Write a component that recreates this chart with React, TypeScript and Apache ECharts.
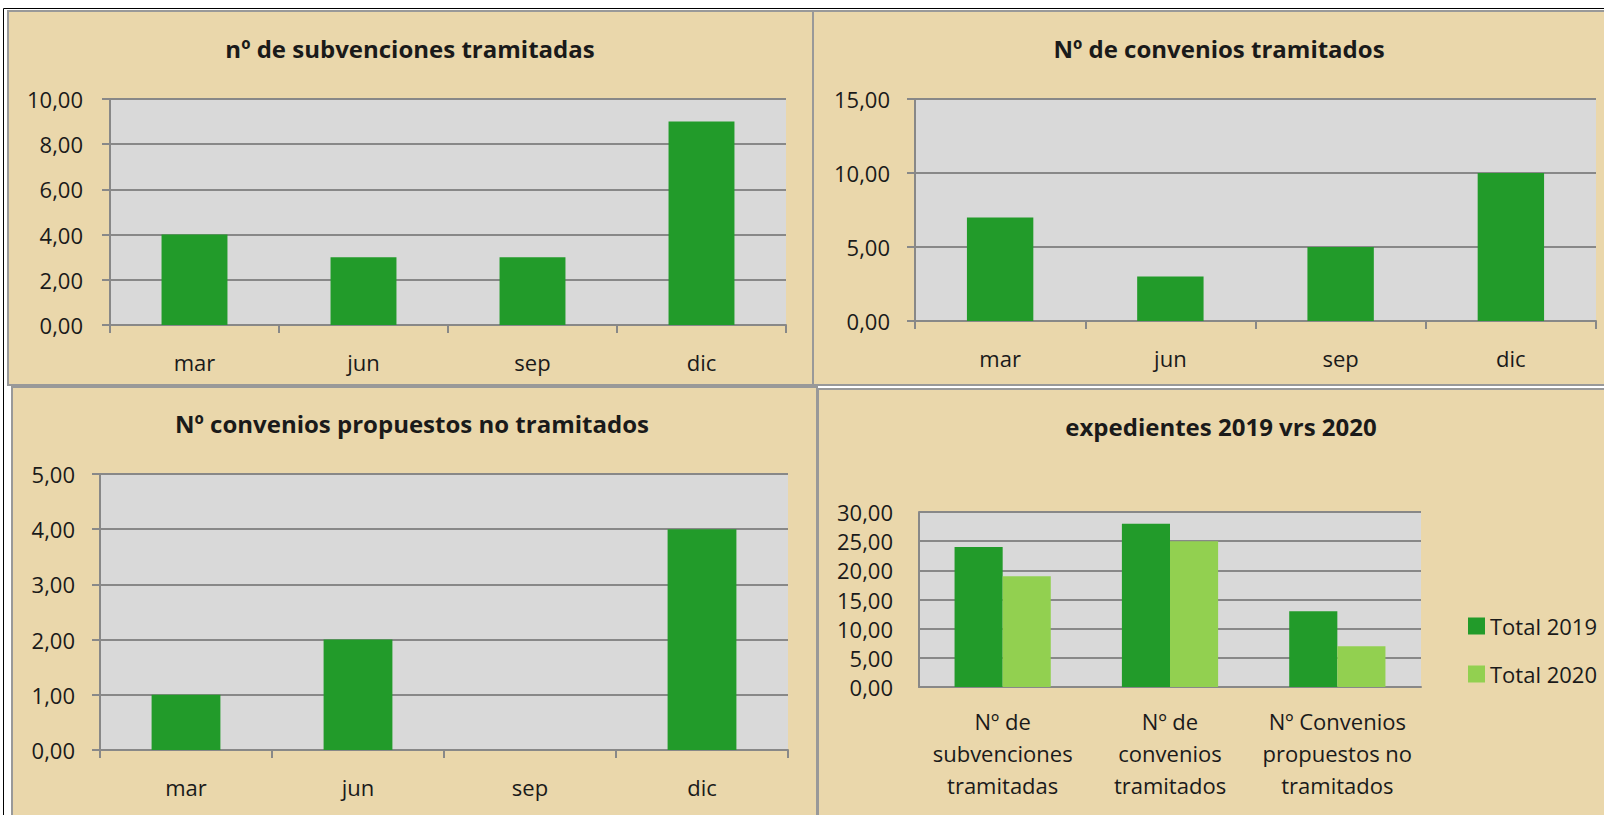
import React, { useEffect, useRef } from "react";
import * as echarts from "echarts";

const monthCats = ["mar", "jun", "sep", "dic"];
const subvValues = [4, 3, 3, 9];
const convValues = [7, 3, 5, 10];
const propValues = [1, 2, 0, 4];
const expCats = [
  "Nº de\nsubvenciones\ntramitadas",
  "Nº de\nconvenios\ntramitados",
  "Nº Convenios\npropuestos no\ntramitados",
];
const total2019 = [24, 28, 13];
const total2020 = [19, 25, 7];

const titles = [
  "nº de subvenciones tramitadas",
  "Nº de convenios tramitados",
  "Nº convenios propuestos no tramitados",
  "expedientes 2019 vrs 2020",
];

const FONT = '"Open Sans", "Noto Sans", sans-serif';
const TXT = "#1a1a1a";
const GRAY = "#888888";
const BEIGE = "#EAD7AB";
const DARK = "#229B2A";
const LIGHT = "#92D050";

const fmt = (v: number) => v.toFixed(2).replace(".", ",");

function yAxis(gridIndex: number, max: number, interval: number, ticks: boolean, margin: number) {
  return {
    type: "value",
    gridIndex,
    min: 0,
    max,
    interval,
    axisLine: { show: true, lineStyle: { color: GRAY, width: 2 } },
    axisTick: { show: ticks, length: 8, lineStyle: { color: GRAY, width: 2 } },
    splitLine: { show: true, lineStyle: { color: GRAY, width: 2 } },
    axisLabel: { formatter: fmt, fontSize: 22, fontFamily: FONT, color: TXT, margin },
  };
}

function xAxis(gridIndex: number, data: string[], ticks: boolean, margin: number, lineHeight: number) {
  return {
    type: "category",
    gridIndex,
    data,
    axisLine: { show: true, lineStyle: { color: GRAY, width: 2 } },
    axisTick: { show: ticks, length: 8, lineStyle: { color: GRAY, width: 2 } },
    axisLabel: { fontSize: 22, fontFamily: FONT, color: TXT, margin, lineHeight, interval: 0 },
  };
}

export default function App() {
  const ref = useRef<HTMLDivElement>(null);
  useEffect(() => {
    if (!ref.current) return;
    const chart = echarts.init(ref.current, null, { renderer: "svg" });
    const panel = (x: number, y: number, w: number, h: number) => ({
      type: "rect",
      z: -100,
      silent: true,
      shape: { x, y, width: w, height: h },
      style: { fill: BEIGE, stroke: "#999999", lineWidth: 2 },
    });
    const title = (text: string, x: number, y: number) => ({
      type: "text",
      z: 100,
      x,
      y,
      style: {
        text,
        fill: TXT,
        fontSize: 24,
        fontWeight: "bold",
        fontFamily: FONT,
        align: "center",
        verticalAlign: "middle",
      },
    });
    const gridStyle = { show: true, backgroundColor: "#D9D9D9", borderWidth: 0, containLabel: false };
    chart.setOption({
      animation: false,
      backgroundColor: "#ffffff",
      graphic: {
        elements: [
          {
            type: "rect",
            z: -110,
            silent: true,
            shape: { x: 3.5, y: 8.5, width: 1700, height: 900 },
            style: { fill: "#ffffff", stroke: "#000000", lineWidth: 1 },
          },
          panel(8, 11, 805, 374),
          panel(813, 11, 820, 374),
          panel(12, 387, 805, 450),
          panel(818, 389, 820, 450),
          title(titles[0], 410, 48),
          title(titles[1], 1219, 48),
          title(titles[2], 412, 423),
          title(titles[3], 1221, 426),
        ],
      },
      grid: [
        { ...gridStyle, left: 110, top: 99, width: 676, height: 226 },
        { ...gridStyle, left: 915, top: 99, width: 681, height: 222 },
        { ...gridStyle, left: 100, top: 474, width: 688, height: 276 },
        { ...gridStyle, left: 919, top: 512, width: 502, height: 175 },
      ],
      xAxis: [
        xAxis(0, monthCats, true, 25, 24),
        xAxis(1, monthCats, true, 25, 24),
        xAxis(2, monthCats, true, 25, 24),
        xAxis(3, expCats, false, 18, 32),
      ],
      yAxis: [
        yAxis(0, 10, 2, true, 27),
        yAxis(1, 15, 5, true, 25),
        yAxis(2, 5, 1, true, 25),
        yAxis(3, 30, 5, false, 26),
      ],
      legend: {
        data: ["Total 2019", "Total 2020"],
        orient: "vertical",
        left: 1463,
        top: 609,
        itemWidth: 17,
        itemHeight: 17,
        itemGap: 24,
        icon: "rect",
        textStyle: { fontSize: 22, fontFamily: FONT, color: TXT, lineHeight: 24 },
      },
      series: [
        { type: "bar", name: "subvenciones", xAxisIndex: 0, yAxisIndex: 0, data: subvValues, itemStyle: { color: DARK }, barCategoryGap: "61%" },
        { type: "bar", name: "convenios", xAxisIndex: 1, yAxisIndex: 1, data: convValues, itemStyle: { color: DARK }, barCategoryGap: "61%" },
        { type: "bar", name: "propuestos", xAxisIndex: 2, yAxisIndex: 2, data: propValues, itemStyle: { color: DARK }, barCategoryGap: "60%" },
        { type: "bar", name: "Total 2019", xAxisIndex: 3, yAxisIndex: 3, data: total2019, itemStyle: { color: DARK }, barGap: "0%", barCategoryGap: "42.5%" },
        { type: "bar", name: "Total 2020", xAxisIndex: 3, yAxisIndex: 3, data: total2020, itemStyle: { color: LIGHT }, barGap: "0%", barCategoryGap: "42.5%" },
      ],
    });
    return () => chart.dispose();
  }, []);
  return (
    <div
      ref={ref}
      style={{ position: "fixed", left: 0, top: 0, width: 1604, height: 815 }}
    />
  );
}
